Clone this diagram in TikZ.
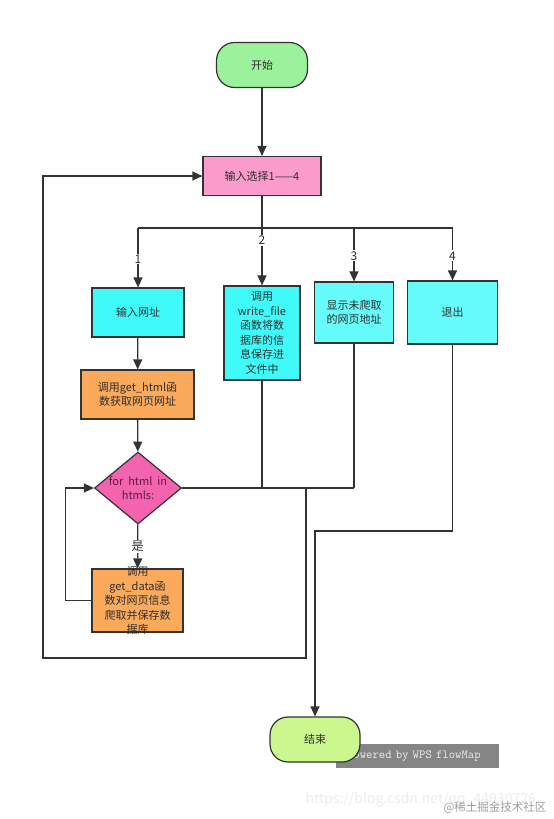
\documentclass[tikz,border=0pt]{standalone}
\usepackage{fontspec}
\setmainfont{Noto Sans CJK SC}
\usetikzlibrary{arrows.meta,shapes.geometric}

\definecolor{linegray}{HTML}{333333}
\definecolor{textgray}{HTML}{2E2E2E}
\definecolor{startgreen}{HTML}{9CF29C}
\definecolor{endgreen}{HTML}{CCF78F}
\definecolor{choosepink}{HTML}{FA9BCB}
\definecolor{boxcyan}{HTML}{40FAFA}
\definecolor{boxcyanlight}{HTML}{66FCFC}
\definecolor{boxorange}{HTML}{FBAA5C}
\definecolor{looppink}{HTML}{F463AE}
\definecolor{looptext}{HTML}{5E1A46}
\definecolor{badgegray}{HTML}{858585}

\tikzset{
	box/.style={draw=linegray, line width=1.2pt, rectangle, inner sep=0pt, align=center, text=textgray, font=\fontsize{11}{14.5}\selectfont},
	term/.style={box, rounded corners=18pt},
	flow/.style={draw=linegray, line width=1.3pt, -{Triangle[length=10pt,width=9pt]}},
	wire/.style={draw=linegray, line width=1.3pt},
	lbl/.style={fill=white, inner sep=1pt, text=textgray, font=\fontsize{12}{12}\selectfont},
}

\begin{document}
\begin{tikzpicture}[x=1pt, y=-1pt]
			\useasboundingbox (0,0) rectangle (554,819);

			% watermarks
			\node (csdnmark) [anchor=west, text=gray!15, font=\fontsize{14}{14}\selectfont] at (302,800) {https://blog.csdn.net/qq\_44930726};
			\node (juejinmark) [anchor=east, text=gray!75, font=\fontsize{11.5}{11.5}\selectfont] at (550,808) {@稀土掘金技术社区};
			\node (badge) [fill=badgegray, minimum width=163pt, minimum height=24pt, inner sep=0pt, text width=163pt, align=left, text=white!85!gray, font=\ttfamily\fontsize{12.4}{12.4}\selectfont] at (417.5,756) {\hspace*{11pt}Powered by WPS flowMap};

			% nodes
			\node (start) [term, fill=startgreen, minimum width=91pt, minimum height=45pt] at (262,65) {开始};
			\node (choose) [box, fill=choosepink, minimum width=118pt, minimum height=39pt] at (262,176) {输入选择1——4};

			\node (url) [box, fill=boxcyan, minimum width=92pt, minimum height=49pt] at (138,312.5) {输入网址};
			\node (save) [box, fill=boxcyan, minimum width=76pt, minimum height=94pt] at (262,333) {调用\\write\_file\\函数将数\\据库的信\\息保存进\\文件中};
			\node (show) [box, fill=boxcyanlight, minimum width=79pt, minimum height=61pt] at (354,312.5) {显示未爬取\\的网页地址};
			\node (quit) [box, fill=boxcyanlight, minimum width=90pt, minimum height=63pt] at (452.5,312.5) {退出};

			\node (gethtml) [box, fill=boxorange, minimum width=113pt, minimum height=49pt] at (137.5,394.5) {调用get\_html函\\数获取网页网址};
			\node (loop) [diamond, draw=linegray, line width=1.2pt, fill=looppink, inner sep=0pt, minimum width=87pt, minimum height=72pt,
				label={[align=center, text=looptext, font=\fontsize{11}{14.5}\selectfont]center:for\ \ html\ \ in\\htmls:}] at (138,488) {};
			\node (getdata) [box, fill=boxorange, minimum width=91pt, minimum height=63pt,
				label={[align=center, text=textgray, font=\fontsize{11}{14.5}\selectfont]center:调用\\get\_data函\\数对网页信息\\爬取并保存数\\据库}] at (137.5,600.5) {};

			\node (end) [term, fill=endgreen, minimum width=90pt, minimum height=45pt] at (315,739.5) {结束};

			% connectors
			\coordinate (bus) at (262,228);
			\coordinate (merge) at (354,488);
			\coordinate (back) at (306,488);
			\coordinate (backcorner) at (306,658);
			\coordinate (drop) at (452.5,531);

			\draw[flow] (start) -- (choose);
			\draw[wire] (choose) -- (bus);
			\draw[wire] (bus -| url) -- (bus -| quit);
			\draw[flow] (bus -| url) -- node[lbl, pos=0.52] {1} (url);
			\draw[flow] (bus) -- node[lbl, pos=0.22] {2} (save);
			\draw[flow] (bus -| show) -- node[lbl, pos=0.52] {3} (show);
			\draw[flow] (bus -| quit) -- node[lbl, pos=0.53] {4} (quit);

			\draw[flow] (url) -- (gethtml);
			\draw[flow] (gethtml) -- (loop);
			\draw[flow] (loop) -- node[lbl] {是} (getdata);
			\draw[flow] (getdata.west) -- ++(-26,0) |- (loop.west);

			\draw[wire] (loop.east) -- (merge);
			\draw[wire] (save) -- (save |- merge);
			\draw[wire] (show) -- (merge);
			\draw[flow] (back) -- (backcorner) -- ++(-263,0) |- (choose.west);

			\draw[flow] (quit) -- (drop) -| (end);

		\end{tikzpicture}
\end{document}
